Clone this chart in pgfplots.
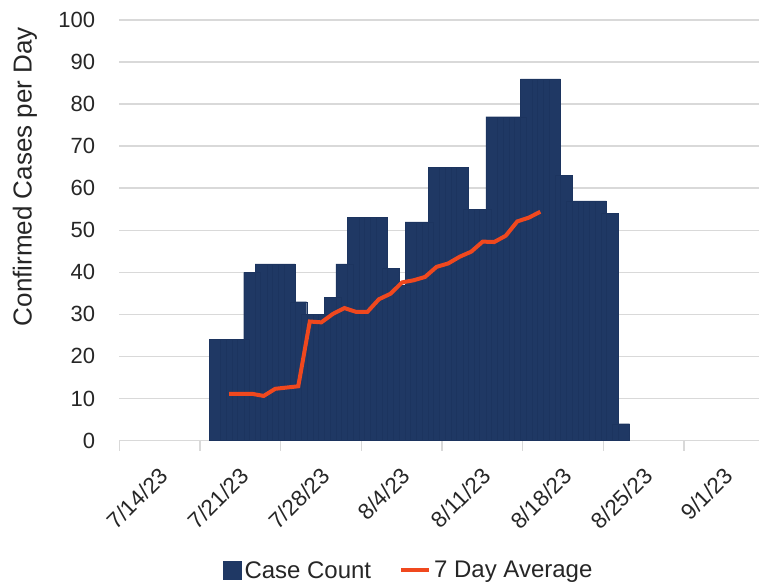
\documentclass[border=0pt]{standalone}
\usepackage{fontspec}
\setmainfont{Liberation Sans}
\usepackage{pgfplots}
\pgfplotsset{compat=1.18}

\definecolor{casenavy}{HTML}{1F3864}
\definecolor{barline}{HTML}{1C345F}
\definecolor{avgred}{HTML}{F0481E}
\definecolor{gridgray}{HTML}{D9D9D9}

\begin{document}
\begin{tikzpicture}
\begin{axis}[
    name=ax,
    at={(0,0)}, anchor=south west,
    scale only axis,
    width=640pt, height=420.7pt,
    xmin=0, xmax=55.5,
    ymin=0, ymax=100,
    xtick={0,7,...,49},
    xticklabels={7/14/23,7/21/23,7/28/23,8/4/23,8/11/23,8/18/23,8/25/23,9/1/23},
    ytick={0,10,...,100},
    axis x line*=bottom,
    axis y line*=left,
    x axis line style={gridgray, line width=1.5pt},
    y axis line style={draw=none},
    ymajorgrids,
    grid style={gridgray, line width=1.5pt},
    tick align=outside,
    major tick length=10pt,
    xtick style={gridgray, line width=1.5pt},
    ytick style={draw=none},
    /pgf/number format/assume math mode=true,
    tick label style={font=\fontsize{22}{26}\selectfont, text=black!85},
    yticklabel style={anchor=east, inner sep=0pt, xshift=-14pt},
    xticklabel style={anchor=north east, inner sep=0pt, xshift=39pt, yshift=-15pt, rotate=45,
        font=\fontsize{22.5}{26}\selectfont},
    ylabel={Confirmed Cases per Day},
    ylabel style={font=\fontsize{26}{30}\selectfont, text=black!85,
        at={(axis description cs:-0.1475,0.6275)}, anchor=center},
    legend columns=-1,
    legend style={draw=none, fill=none,
        at={(axis description cs:0.1625,-0.309)}, anchor=west,
        inner sep=0pt, outer sep=0pt,
        font=\fontsize{24}{28}\selectfont,
        nodes={inner xsep=3pt, inner ysep=0pt, text=black!85},
        /tikz/every even column/.append style={column sep=25pt}},
]

% daily case counts (bars are wider than a day and overlap, as in the source)
\addplot[ybar, bar width=1.47, fill=casenavy, draw=barline, line width=0.3pt,
    legend image code/.code={\fill[casenavy] (0pt,-9pt) rectangle (18pt,9pt);}]
coordinates {
    (8.53,24)(9.53,24)(10.53,24)(11.53,40)(12.53,42)(13.53,42)
    (14.53,42)(15.53,33)(16.53,30)(17.53,30)(18.53,34)(19.53,42)
    (20.53,53)(21.53,53)(22.53,53)(23.53,41)(24.53,37)(25.53,52)
    (26.53,52)(27.53,65)(28.53,65)(29.53,65)(30.53,55)(31.53,55)
    (32.53,77)(33.53,77)(34.53,77)(35.53,86)(36.53,86)(37.53,86)
    (38.53,63)(39.53,57)(40.53,57)(41.53,57)(42.53,54)(43.53,4)
};
\addlegendentry{Case Count}

\addplot[avgred, line width=4pt, no marks,
    legend image code/.code={\draw[avgred, line width=4pt] (0pt,0pt) -- (28pt,0pt);}]
coordinates {
    (9.53,11.1)(10.53,11.1)(11.53,11.1)(12.53,10.6)(13.53,12.3)
    (14.53,12.6)(15.53,12.9)(16.53,28.3)(17.53,28.1)(18.53,30.1)
    (19.53,31.5)(20.53,30.6)(21.53,30.6)(22.53,33.6)(23.53,34.9)
    (24.53,37.6)(25.53,38.1)(26.53,38.9)(27.53,41.3)(28.53,42.1)
    (29.53,43.7)(30.53,44.9)(31.53,47.3)(32.53,47.2)(33.53,48.7)
    (34.53,52.1)(35.53,53.0)(36.53,54.4)
};
\addlegendentry{7 Day Average}

\end{axis}
\pgfresetboundingbox
\path[use as bounding box] (-119.3pt,-145pt) rectangle (640pt,440.7pt);
\end{tikzpicture}
\end{document}
